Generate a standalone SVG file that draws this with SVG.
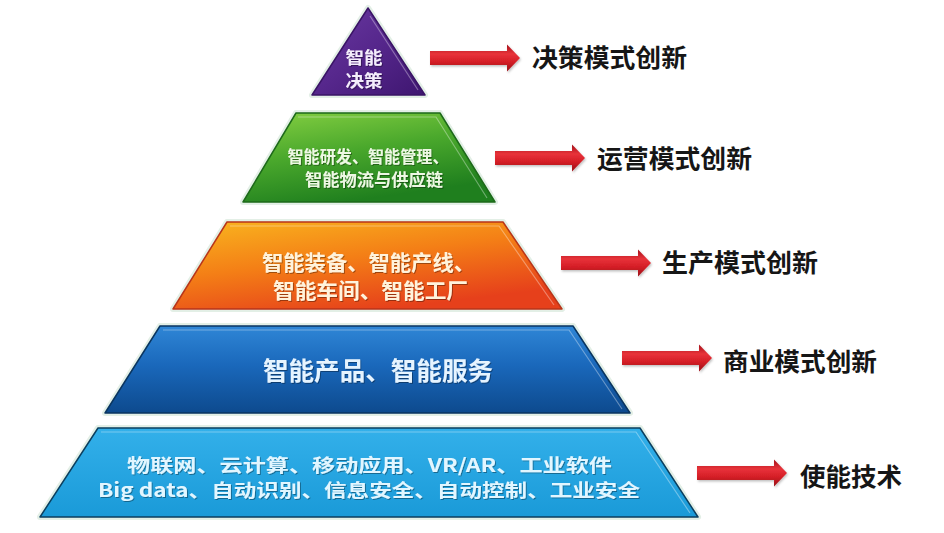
<svg xmlns="http://www.w3.org/2000/svg" xmlns:xlink="http://www.w3.org/1999/xlink" width="944" height="533" viewBox="0 0 944 533">
  <defs>
    <linearGradient id="gPurple" x1="0" y1="0" x2="1" y2="1">
      <stop offset="0" stop-color="#6a3aa2"/>
      <stop offset="0.5" stop-color="#56278c"/>
      <stop offset="1" stop-color="#3e1670"/>
    </linearGradient>
    <linearGradient id="gGreen" x1="0" y1="0" x2="0.4" y2="1">
      <stop offset="0" stop-color="#86d042"/>
      <stop offset="0.5" stop-color="#4aa82c"/>
      <stop offset="1" stop-color="#1f7f1e"/>
    </linearGradient>
    <linearGradient id="gOrange" x1="0" y1="0" x2="0.55" y2="1">
      <stop offset="0" stop-color="#f9b61f"/>
      <stop offset="0.5" stop-color="#f47f16"/>
      <stop offset="1" stop-color="#e6401b"/>
    </linearGradient>
    <linearGradient id="gBlue" x1="0" y1="0" x2="0" y2="1">
      <stop offset="0" stop-color="#2f86d6"/>
      <stop offset="0.45" stop-color="#1a68bb"/>
      <stop offset="1" stop-color="#0d4a8e"/>
    </linearGradient>
    <linearGradient id="gSky" x1="0" y1="0" x2="0" y2="1">
      <stop offset="0" stop-color="#33b0ea"/>
      <stop offset="1" stop-color="#1a9ad8"/>
    </linearGradient>
    <linearGradient id="gArrow" x1="0" y1="0" x2="0" y2="1">
      <stop offset="0" stop-color="#a3121a"/>
      <stop offset="0.35" stop-color="#e8323a"/>
      <stop offset="0.65" stop-color="#d41e26"/>
      <stop offset="1" stop-color="#981018"/>
    </linearGradient>
    <filter id="tShadow" x="-10%" y="-30%" width="120%" height="160%">
      <feDropShadow dx="1" dy="1" stdDeviation="0.6" flood-color="#000" flood-opacity="0.35"/>
    </filter>
    <filter id="aShadow" x="-10%" y="-40%" width="120%" height="180%">
      <feDropShadow dx="1" dy="1.5" stdDeviation="1" flood-color="#000" flood-opacity="0.25"/>
    </filter>
    <path id="arrow" d="M0,-7 H77 V-13.5 L90,0 L77,13.5 V7 H0 Z"/>
  </defs>
  <style>
    .glow { fill: none; stroke: #e3efe6; stroke-width: 6; stroke-linejoin: round; }
    .edge { stroke-width: 1.5; stroke-linejoin: round; }
    .bevel { fill: none; stroke: #ffffff; stroke-opacity: 0.35; stroke-width: 1.2; }
    .tt { font-family: "Noto Sans CJK SC", "Noto Sans", sans-serif; font-weight: bold; text-anchor: middle; filter: url(#tShadow); }
    .lbl { font-family: "Noto Sans CJK SC", "Noto Sans", sans-serif; font-weight: bold; font-size: 25px; fill: #161616; }
    .arr { fill: url(#gArrow); filter: url(#aShadow); }
  </style>
  <rect width="944" height="533" fill="#ffffff"/>

  <!-- Tier 1 -->
  <g id="tier-decision">
    <polygon class="glow" points="368,8 425,95 312,95"/>
    <polygon class="edge" points="368,8 425,95 312,95" fill="url(#gPurple)" stroke="#3a1466"/>
    <polyline class="bevel" points="370,16 418,90"/>
    <text class="tt" font-size="17" fill="#f4eefc"><tspan x="364" y="63.5" textLength="37" lengthAdjust="spacingAndGlyphs">智能</tspan><tspan x="364" y="87" textLength="37" lengthAdjust="spacingAndGlyphs">决策</tspan></text>
  </g>

  <!-- Tier 2 -->
  <g id="tier-operation">
    <polygon class="glow" points="296,113 440,113 495,202 243,202"/>
    <polygon class="edge" points="296,113 440,113 495,202 243,202" fill="url(#gGreen)" stroke="#1d6a1a"/>
    <polyline class="bevel" points="298,117 436,117 487,198"/>
    <text class="tt" font-size="17" fill="#eef8e4"><tspan x="368" y="163" textLength="161" lengthAdjust="spacingAndGlyphs">智能研发、智能管理、</tspan><tspan x="374" y="186" textLength="138" lengthAdjust="spacingAndGlyphs">智能物流与供应链</tspan></text>
  </g>

  <!-- Tier 3 -->
  <g id="tier-production">
    <polygon class="glow" points="227,222 503,222 562,309 173,309"/>
    <polygon class="edge" points="227,222 503,222 562,309 173,309" fill="url(#gOrange)" stroke="#b8351a"/>
    <polyline class="bevel" points="230,226 499,226 554,305"/>
    <text class="tt" font-size="21" fill="#fff3dc"><tspan x="368.5" y="270" textLength="213" lengthAdjust="spacingAndGlyphs">智能装备、智能产线、</tspan><tspan x="370.5" y="298" textLength="195" lengthAdjust="spacingAndGlyphs">智能车间、智能工厂</tspan></text>
  </g>

  <!-- Tier 4 -->
  <g id="tier-business">
    <polygon class="glow" points="160,326 573,326 630,413 105,413"/>
    <polygon class="edge" points="160,326 573,326 630,413 105,413" fill="url(#gBlue)" stroke="#0a3560"/>
    <polyline class="bevel" points="163,330 569,330 622,409"/>
    <text class="tt" x="378" y="380" font-size="25" fill="#e6f4ff" textLength="230" lengthAdjust="spacingAndGlyphs">智能产品、智能服务</text>
  </g>

  <!-- Tier 5 -->
  <g id="tier-enabling">
    <polygon class="glow" points="98,428 640,428 698,517 40,517"/>
    <polygon class="edge" points="98,428 640,428 698,517 40,517" fill="url(#gSky)" stroke="#0b3f5f"/>
    <polyline class="bevel" points="101,432 636,432 690,513"/>
    <text class="tt" font-size="18.5" fill="#e2f6ff"><tspan x="369.5" y="471.5" textLength="485" lengthAdjust="spacingAndGlyphs">物联网、云计算、移动应用、VR/AR、工业软件</tspan><tspan x="369" y="497" textLength="542" lengthAdjust="spacingAndGlyphs">Big data、自动识别、信息安全、自动控制、工业安全</tspan></text>
  </g>

  <!-- Connectors -->
  <g id="connectors">
    <use href="#arrow" xlink:href="#arrow" class="arr" x="430" y="58"/>
    <use href="#arrow" xlink:href="#arrow" class="arr" x="495" y="158"/>
    <use href="#arrow" xlink:href="#arrow" class="arr" x="561" y="263"/>
    <use href="#arrow" xlink:href="#arrow" class="arr" x="622" y="358"/>
    <use href="#arrow" xlink:href="#arrow" class="arr" x="697" y="473"/>
  </g>

  <!-- Right labels -->
  <g id="label-decision"><text class="lbl" x="532" y="67" textLength="155" lengthAdjust="spacingAndGlyphs">决策模式创新</text></g>
  <g id="label-operation"><text class="lbl" x="597" y="168" textLength="155" lengthAdjust="spacingAndGlyphs">运营模式创新</text></g>
  <g id="label-production"><text class="lbl" x="662" y="272" textLength="156" lengthAdjust="spacingAndGlyphs">生产模式创新</text></g>
  <g id="label-business"><text class="lbl" x="723" y="371" textLength="154" lengthAdjust="spacingAndGlyphs">商业模式创新</text></g>
  <g id="label-enabling"><text class="lbl" x="800" y="486" textLength="102" lengthAdjust="spacingAndGlyphs">使能技术</text></g>
</svg>
